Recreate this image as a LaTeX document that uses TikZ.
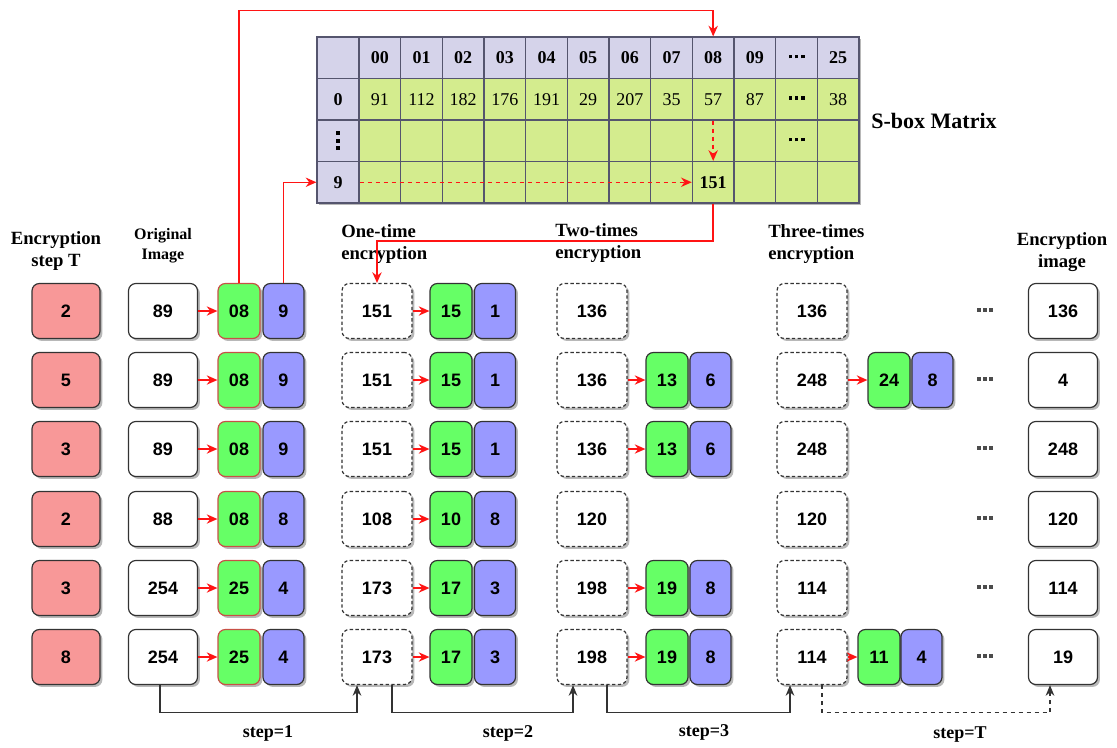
\documentclass[tikz,border=0pt]{standalone}
\usepackage{fontspec}
\setmainfont{Liberation Serif}
\setsansfont{Liberation Sans}
\usetikzlibrary{arrows.meta,shadows,calc}
\definecolor{pinkc}{RGB}{248,152,152}
\definecolor{greenc}{RGB}{102,255,102}
\definecolor{bluec}{RGB}{153,153,255}
\definecolor{hdrc}{RGB}{213,211,234}
\definecolor{cellc}{RGB}{212,236,142}
\definecolor{tabb}{RGB}{85,85,110}
\definecolor{redb}{RGB}{200,80,70}
\definecolor{redl}{RGB}{255,20,20}
\newcommand{\hdotsq}{\raisebox{0.3ex}{\rule{2.8pt}{2.8pt}\hspace{1.8pt}\rule{2.8pt}{2.8pt}\hspace{1.8pt}\rule{2.8pt}{2.8pt}}}
\newcommand{\vdotsq}{\vbox{\offinterlineskip\hbox{\rule{2.8pt}{2.8pt}}\vskip2.8pt\hbox{\rule{2.8pt}{2.8pt}}\vskip2.8pt\hbox{\rule{2.8pt}{2.8pt}}}}
\newcommand{\boxfont}{\sffamily\bfseries\fontsize{13.5}{15}\selectfont}
\newcommand{\tabfont}{\fontsize{13.5}{15}\selectfont}
\newcommand{\headfont}{\bfseries\fontsize{14}{17}\selectfont}
\tikzset{
  sh/.style={drop shadow={shadow xshift=1.8pt,shadow yshift=-1.8pt,opacity=0.28,fill=black}},
  basebox/.style={rounded corners=5.5pt,draw=black!80,line width=0.9pt,minimum height=41.25pt,inner sep=0pt,font=\boxfont,sh},
  stepbox/.style={basebox,fill=pinkc,minimum width=51pt},
  imgbox/.style={basebox,fill=white,minimum width=51.75pt},
  encbox/.style={basebox,fill=white,dash pattern=on 2.5pt off 1.8pt,minimum width=52.5pt},
  gbox/.style={basebox,fill=greenc,minimum width=31.5pt},
  gboxr/.style={gbox,draw=redb},
  bbox/.style={basebox,fill=bluec,minimum width=30.75pt},
  dotsn/.style={inner sep=0pt,text=black!70},
  tcell/.style={draw=tabb,line width=0.9pt,minimum width=31.25pt,minimum height=31.1pt,inner sep=0pt,font=\tabfont},
  hcell/.style={tcell,fill=hdrc,font=\tabfont\bfseries},
  dcell/.style={tcell,fill=cellc},
  redarr/.style={draw=redl,line width=1.1pt,-{Stealth[length=8pt,width=7pt]}},
  reddash/.style={redarr,dashed},
  steparr/.style={draw=black!80,line width=0.9pt,-{Stealth[length=8pt,width=6.5pt]}},
  stepdash/.style={steparr,dashed},
  head/.style={font=\headfont,align=center,inner sep=0pt},
  steplbl/.style={font=\bfseries\fontsize{13.5}{15}\selectfont,inner sep=0pt}
}
\begin{document}
\begin{tikzpicture}[x=0.75pt,y=-0.75pt]
\useasboundingbox (0,0) rectangle (1117,747);
% ---- S-box table ----
\fill[white,sh] (317,37) rectangle (859,203);
\node[hcell,minimum width=31.5pt] (tlh) at (338,57.75) {};
\node[hcell,minimum width=31.5pt] (tl0) at (338,99.25) {0};
\node[hcell,minimum width=31.5pt] (tlm) at (338,140.75) {\vdotsq};
\node[hcell,minimum width=31.5pt] (tl9) at (338,182.25) {9};
\foreach \t [count=\i from 0] in {00,01,02,03,04,05,06,07,08,09,\hdotsq,25}
  \node[hcell] (thd\i) at ({379.83+41.67*\i},57.75) {\t};
\foreach \t [count=\i from 0] in {91,112,182,176,191,29,207,35,57,87,\hdotsq,38}
  \node[dcell] (tra\i) at ({379.83+41.67*\i},99.25) {\t};
\foreach \t [count=\i from 0] in {{},{},{},{},{},{},{},{},{},{},\hdotsq,{}}
  \node[dcell] (trm\i) at ({379.83+41.67*\i},140.75) {\t};
\foreach \t [count=\i from 0] in {{},{},{},{},{},{},{},{},\textbf{151},{},{},{}}
  \node[dcell] (trn\i) at ({379.83+41.67*\i},182.25) {\t};
\node[font=\bfseries\fontsize{16.5}{19}\selectfont,inner sep=0pt] (sbl) at (934,121) {S-box Matrix};
% ---- headers ----
\node[head] (h1) at (56,251) {Encryption\\step T};
\node[head,font=\bfseries\fontsize{12}{15}\selectfont] (h2) at (163,246) {Original\\Image};
\node[head,anchor=west,align=left] (h3) at (341,244) {One-time\\encryption};
\node[head,anchor=west,align=left] (h4) at (555,243) {Two-times\\encryption};
\node[head,anchor=west,align=left] (h5) at (768,244) {Three-times\\encryption};
\node[head] (h6) at (1062,252) {Encryption\\image};
% ---- rows ----
\foreach \r/\yy/\T/\o/\og/\ob/\e/\eg/\eb/\t/\th/\f in {
1/311/2/89/08/9/151/15/1/136/136/136,
2/380/5/89/08/9/151/15/1/136/248/4,
3/449/3/89/08/9/151/15/1/136/248/248,
4/519/2/88/08/8/108/10/8/120/120/120,
5/588/3/254/25/4/173/17/3/198/114/114,
6/657/8/254/25/4/173/17/3/198/114/19}{
 \node[stepbox] (st\r) at (66,\yy) {\T};
 \node[imgbox] (oi\r) at (163,\yy) {\o};
 \node[gboxr] (og\r) at (239,\yy) {\og};
 \node[bbox] (ob\r) at (283.5,\yy) {\ob};
 \node[encbox] (ea\r) at (377,\yy) {\e};
 \node[gbox] (eg\r) at (451,\yy) {\eg};
 \node[bbox] (eb\r) at (495,\yy) {\eb};
 \node[encbox] (tw\r) at (592,\yy) {\t};
 \node[encbox] (tr\r) at (812,\yy) {\th};
 \node[imgbox] (fi\r) at (1063,\yy) {\f};
 \node[dotsn] (dd\r) at (985,\yy) {\hdotsq};
 \draw[redarr] (oi\r) -- (og\r);
 \draw[redarr] (ea\r) -- (eg\r);
}
\foreach \r/\yy/\g/\b in {2/380/13/6,3/449/13/6,5/588/19/8,6/657/19/8}{
 \node[gbox] (tg\r) at (667,\yy) {\g};
 \node[bbox] (tb\r) at (710.5,\yy) {\b};
 \draw[redarr] (tw\r) -- (tg\r);
}
\node[gbox] (rg2) at (889,380) {24};
\node[bbox] (rb2) at (932.5,380) {8};
\draw[redarr] (tr2) -- (rg2);
\node[gbox] (rg6) at (879,657) {11};
\node[bbox] (rb6) at (921.5,657) {4};
\draw[redarr] (tr6) -- (rg6);
% ---- red lookup connectors ----
\draw[redarr] (og1.north) |- ($(thd8.north)+(0,-26)$) -- (thd8.north);
\draw[redarr] (ob1.north) |- (tl9.west);
\draw[reddash] (tl9.east) -- (trn8.west);
\draw[reddash] (tra8.south) -- (trn8.north);
\draw[redarr] (trn8.south) |- ($(ea1.north)+(0,-42)$) -- (ea1.north);
% ---- step connectors ----
\draw[steparr] ($(oi6.south)+(-3,0)$) -- ++(0,27.5) -| ($(ea6.south)+(-20,0)$);
\draw[steparr] ($(ea6.south)+(15,0)$) -- ++(0,27.5) -| ($(tw6.south)+(-19,0)$);
\draw[steparr] ($(tw6.south)+(15,0)$) -- ++(0,27.5) -| ($(tr6.south)+(-22,0)$);
\draw[stepdash] ($(tr6.south)+(10,0)$) -- ++(0,27.5) -| ($(fi6.south)+(-13,0)$);
\node[steplbl] (sl1) at (268,733) {step=1};
\node[steplbl] (sl2) at (508,733) {step=2};
\node[steplbl] (sl3) at (704,732) {step=3};
\node[steplbl] (slT) at (960,735) {step=T};
\end{tikzpicture}
\end{document}
